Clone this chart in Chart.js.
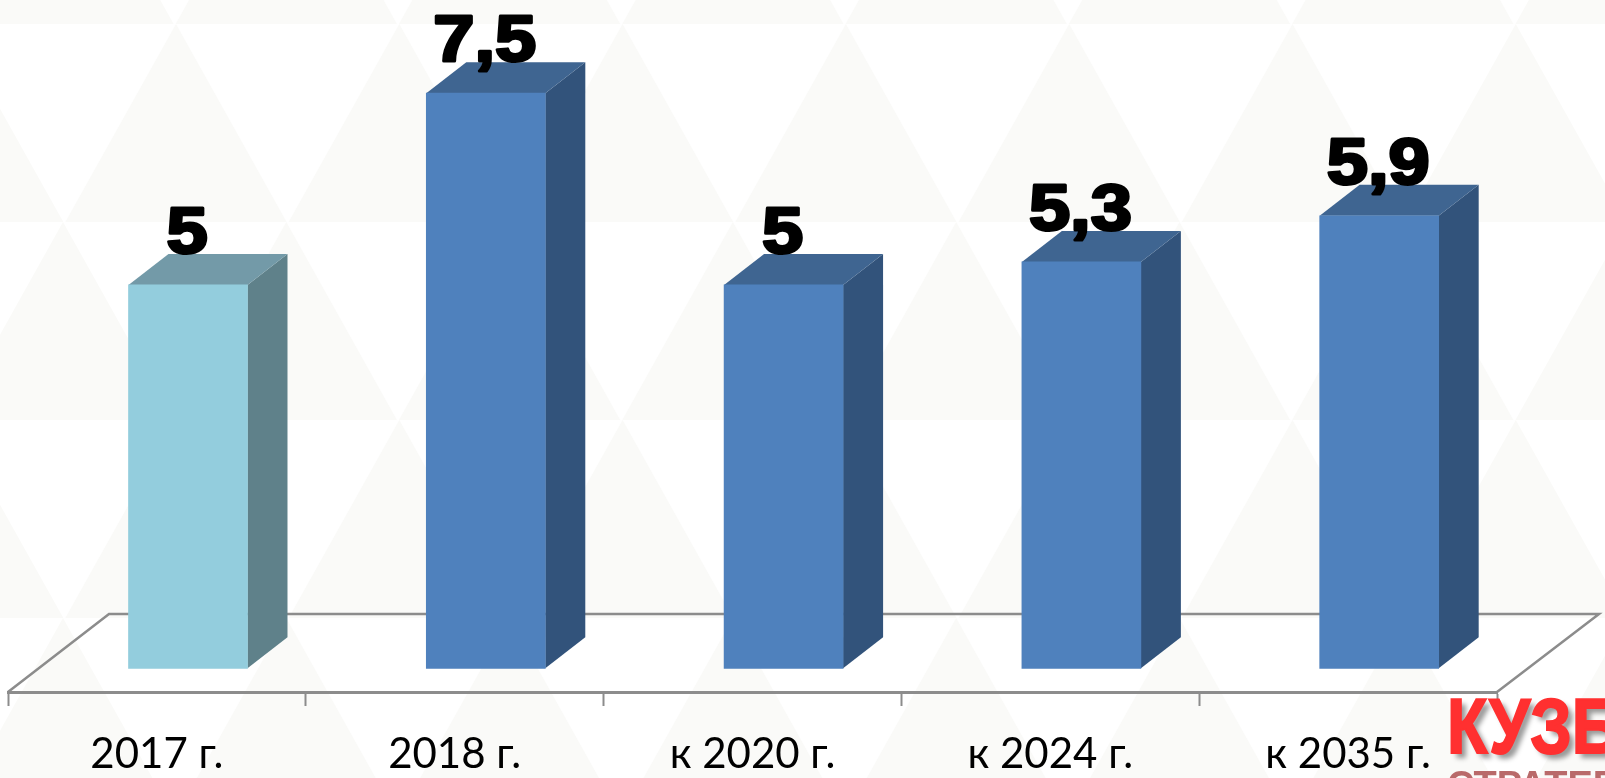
<!DOCTYPE html>
<html>
<head>
<meta charset="utf-8">
<title>Chart</title>
<style>
    html, body { margin: 0; padding: 0; background: #fff; overflow: hidden; }
    canvas { display: block; }
</style>
<script src="https://cdn.jsdelivr.net/npm/chart.js@4"></script>
</head>
<body>
<canvas id="chart" width="1605" height="778"></canvas>
<script>
const categories = ['2017 г.', '2018 г.', 'к 2020 г.', 'к 2024 г.', 'к 2035 г.'];
const values = [5, 7.5, 5, 5.3, 5.9];
const valueLabels = ['5', '7,5', '5', '5,3', '5,9'];

const frontColors = ['#93cddd', '#4f81bd', '#4f81bd', '#4f81bd', '#4f81bd'];
const sideColors = ['#5f818a', '#32537b', '#32537b', '#32537b', '#32537b'];
const topColors = ['#739aa8', '#3f6591', '#3f6591', '#3f6591', '#3f6591'];

const DEPTH_X = 40;
const DEPTH_Y = 31;
const FLOOR_X = 101;
const FLOOR_Y = 78;
const AXIS_COLOR = '#8c8c8c';

// triangles behind the chart, same tile repeated over the whole page
const patternBackground = {
    id: 'patternBackground',
    beforeDraw(chart) {
        const ctx = chart.ctx;
        const stepX = 223.3;
        const stepY = 198;
        ctx.save();
        ctx.fillStyle = '#fff';
        ctx.fillRect(0, 0, chart.width, chart.height);
        ctx.fillStyle = '#fafaf8';
        for (let row = -1; row < 4; row++) {
            const apexY = 24 + row * stepY;
            const startX = row % 2 === 0 ? 176 : 63;
            for (let n = -1; n < 8; n++) {
                const apexX = startX + n * stepX;
                ctx.beginPath();
                ctx.moveTo(apexX, apexY);
                ctx.lineTo(apexX + stepX / 2 - 1, apexY + stepY);
                ctx.lineTo(apexX - stepX / 2 + 1, apexY + stepY);
                ctx.closePath();
                ctx.fill();
            }
        }
        ctx.restore();
    },
};

const bars3d = {
    id: 'bars3d',
    beforeDatasetsDraw(chart) {
        const ctx = chart.ctx;
        const area = chart.chartArea;

        // floor outline, the front edge is the x axis itself
        ctx.save();
        ctx.strokeStyle = AXIS_COLOR;
        ctx.lineWidth = 2.5;
        ctx.beginPath();
        ctx.moveTo(area.left, area.bottom);
        ctx.lineTo(area.left + FLOOR_X, area.bottom - FLOOR_Y);
        ctx.lineTo(area.right + FLOOR_X + 1, area.bottom - FLOOR_Y);
        ctx.lineTo(area.right, area.bottom);
        ctx.stroke();

        chart.getDatasetMeta(0).data.forEach((bar, i) => {
            const right = bar.x + bar.width / 2;
            const left = bar.x - bar.width / 2;

            ctx.fillStyle = sideColors[i];
            ctx.beginPath();
            ctx.moveTo(right, bar.y);
            ctx.lineTo(right + DEPTH_X, bar.y - DEPTH_Y);
            ctx.lineTo(right + DEPTH_X, bar.base - DEPTH_Y);
            ctx.lineTo(right, bar.base);
            ctx.closePath();
            ctx.fill();

            ctx.fillStyle = topColors[i];
            ctx.beginPath();
            ctx.moveTo(left, bar.y);
            ctx.lineTo(left + DEPTH_X, bar.y - DEPTH_Y);
            ctx.lineTo(right + DEPTH_X, bar.y - DEPTH_Y);
            ctx.lineTo(right, bar.y);
            ctx.closePath();
            ctx.fill();
        });
        ctx.restore();
    },
    afterDatasetsDraw(chart) {
        const ctx = chart.ctx;
        ctx.save();
        ctx.font = 'bold 65px "Liberation Sans"';
        ctx.textAlign = 'center';
        ctx.textBaseline = 'alphabetic';
        ctx.fillStyle = '#000';
        ctx.strokeStyle = '#000';
        ctx.lineWidth = 3;
        ctx.lineJoin = 'round';
        chart.getDatasetMeta(0).data.forEach((bar, i) => {
            ctx.save();
            ctx.translate(bar.x - 1, bar.y - DEPTH_Y - 1);
            ctx.scale(1.14, 1);
            ctx.fillText(valueLabels[i], 0, 0);
            ctx.strokeText(valueLabels[i], 0, 0);
            ctx.restore();
        });
        ctx.restore();
    },
};

// logo in the corner, cut off by the page edge
const logo = {
    id: 'logo',
    afterDraw(chart) {
        const ctx = chart.ctx;
        ctx.save();
        ctx.textAlign = 'left';
        ctx.textBaseline = 'alphabetic';

        ctx.save();
        ctx.translate(1447, 753);
        ctx.transform(0.86, 0, 0, 1, 0, 0);
        ctx.font = 'bold 77px "Liberation Sans"';
        ctx.shadowColor = 'rgba(0, 0, 0, 0.4)';
        ctx.shadowBlur = 5;
        ctx.shadowOffsetX = 5;
        ctx.shadowOffsetY = 5;
        ctx.fillStyle = '#ff3030';
        ctx.strokeStyle = '#ff3030';
        ctx.lineWidth = 2;
        ctx.fillText('КУЗБАСС', 0, 0);
        ctx.shadowColor = 'transparent';
        ctx.strokeText('КУЗБАСС', 0, 0);
        ctx.restore();

        ctx.font = 'bold 38px "Liberation Sans"';
        ctx.fillStyle = '#b96a6a';
        ctx.fillText('СТРАТЕГИЯ', 1447, 798);
        ctx.restore();
    },
};

new Chart(document.getElementById('chart'), {
    type: 'bar',
    data: {
        labels: categories,
        datasets: [{
            data: values.map((value, i) => ({ x: i, y: value })),
            xAxisID: 'xBars',
            yAxisID: 'y',
            backgroundColor: frontColors,
            barThickness: 119,
            borderWidth: 0,
        }],
    },
    options: {
        responsive: false,
        animation: false,
        layout: { padding: { left: 8, right: 108, top: 0, bottom: 0 } },
        plugins: {
            legend: { display: false },
            title: { display: false },
            tooltip: { enabled: false },
        },
        scales: {
            x: {
                type: 'category',
                offset: true,
                position: 'bottom',
                afterFit(scale) {
                    scale.height = 86;
                },
                border: { color: AXIS_COLOR, width: 3 },
                grid: {
                    offset: true,
                    drawOnChartArea: false,
                    drawTicks: true,
                    tickLength: 14,
                    tickColor: AXIS_COLOR,
                    tickWidth: 2,
                },
                ticks: {
                    color: '#000',
                    font: { family: 'Lato', size: 42 },
                    maxRotation: 0,
                    autoSkip: false,
                    padding: 23,
                },
            },
            // bars sit a little right of the band centre, like a 3D chart
            xBars: {
                type: 'linear',
                display: false,
                offset: false,
                min: -0.6044,
                max: 4.3956,
            },
            y: {
                display: false,
                min: -0.309,
                max: 8.715,
            },
        },
    },
    plugins: [patternBackground, bars3d, logo],
});
</script>
</body>
</html>
